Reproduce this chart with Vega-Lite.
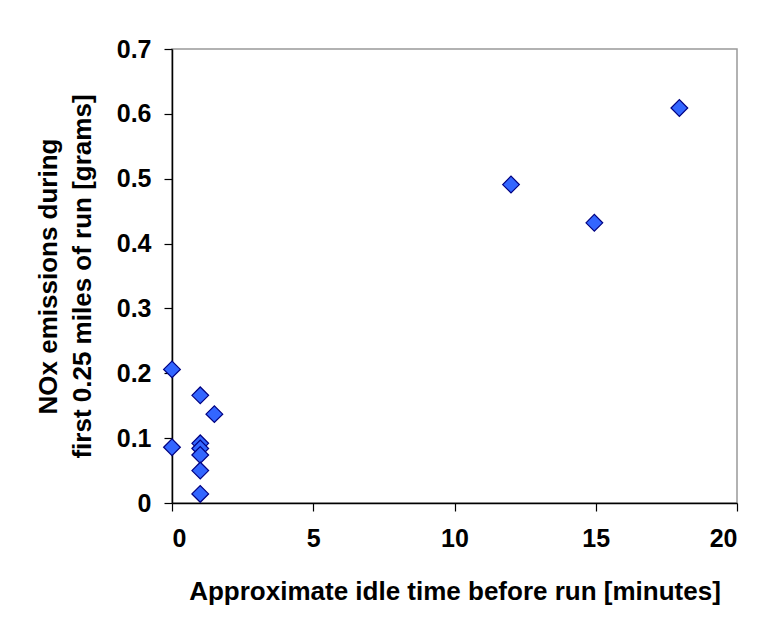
{
  "$schema": "https://vega.github.io/schema/vega-lite/v6.json",
  "autosize": "none",
  "width": 565,
  "height": 454,
  "padding": {"left": 172, "top": 49, "right": 26, "bottom": 126},
  "background": "white",
  "config": {
    "view": {"stroke": "#999999", "strokeWidth": 1.5},
    "font": "Liberation Sans",
    "axis": {
      "grid": false,
      "domainColor": "black",
      "domainWidth": 1.5,
      "tickColor": "black",
      "tickWidth": 1.2,
      "tickSize": 8,
      "labelColor": "black",
      "labelFont": "Liberation Sans",
      "labelFontWeight": "bold",
      "labelFontSize": 25,
      "titleColor": "black",
      "titleFont": "Liberation Sans",
      "titleFontWeight": "bold"
    }
  },
  "data": {
    "values": [
      {"idle": 0, "nox": 0.206},
      {"idle": 0, "nox": 0.086},
      {"idle": 1, "nox": 0.166},
      {"idle": 1.5, "nox": 0.137},
      {"idle": 1, "nox": 0.092},
      {"idle": 1, "nox": 0.084},
      {"idle": 1, "nox": 0.074},
      {"idle": 1, "nox": 0.050},
      {"idle": 1, "nox": 0.014},
      {"idle": 12, "nox": 0.491},
      {"idle": 14.95, "nox": 0.432},
      {"idle": 17.96, "nox": 0.609}
    ]
  },
  "mark": {"type": "point", "shape": "diamond", "filled": true, "size": 280, "fill": "#3366FF", "stroke": "#000080", "strokeWidth": 1.2, "opacity": 1},
  "encoding": {
    "x": {
      "field": "idle", "type": "quantitative",
      "scale": {"domain": [0, 20], "nice": false, "zero": false},
      "axis": {
        "values": [0, 5, 10, 15, 20],
        "format": "d",
        "labelPadding": 15,
        "title": "Approximate idle time before run [minutes]",
        "titleFontSize": 26,
        "titlePadding": 27
      }
    },
    "y": {
      "field": "nox", "type": "quantitative",
      "scale": {"domain": [0, 0.7], "nice": false},
      "axis": {
        "values": [0, 0.1, 0.2, 0.3, 0.4, 0.5, 0.6, 0.7],
        "format": ".1~f",
        "labelPadding": 13,
        "title": ["NOx emissions during", "first 0.25 miles of run [grams]"],
        "titleFontSize": 26,
        "titleLineHeight": 34,
        "titlePadding": 21
      }
    }
  }
}
